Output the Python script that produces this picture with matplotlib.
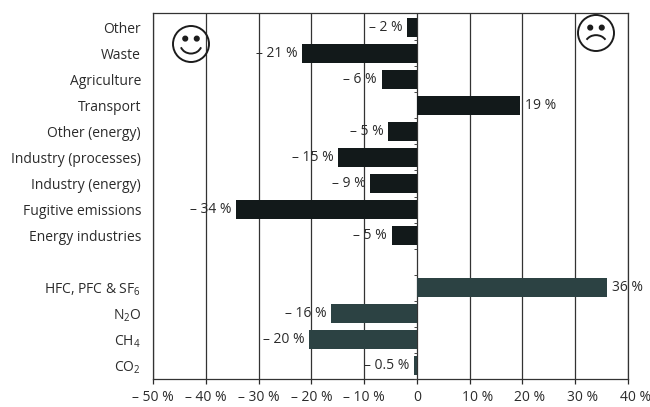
import numpy as np
import matplotlib
matplotlib.use("Agg")
import matplotlib.pyplot as plt
from matplotlib.patches import Circle, Arc

plt.rcParams['font.family'] = ['Open Sans', 'DejaVu Sans']
plt.rcParams['mathtext.default'] = 'regular'

categories = ["Other", "Waste", "Agriculture", "Transport", "Other (energy)",
              "Industry (processes)", "Industry (energy)", "Fugitive emissions",
              "Energy industries", "", "HFC, PFC & SF$_6$", "N$_2$O", "CH$_4$", "CO$_2$"]
values = [-1.8, -21.7, -6.7, 19.6, -5.4, -14.9, -8.8, -34.2, -4.8, None, 36.0, -16.2, -20.4, -0.5]
labels = ["– 2 %", "– 21 %", "– 6 %", "19 %", "– 5 %", "– 15 %", "– 9 %", "– 34 %",
          "– 5 %", "", "36 %", "– 16 %", "– 20 %", "– 0.5 %"]
sector_color = "#12191a"
gas_color = "#2c4243"
xticks = [-50, -40, -30, -20, -10, 0, 10, 20, 30, 40]
xticklabels = ["– 50 %", "– 40 %", "– 30 %", "– 20 %", "– 10 %", "0", "10 %", "20 %", "30 %", "40 %"]

W, H = 650, 407
fig = plt.figure(figsize=(W/100, H/100), dpi=100, facecolor="white")
L, R, T, B = 153, 628, 13, 379
ax = fig.add_axes([L/W, 1-B/H, (R-L)/W, (B-T)/H])
ink = "#2b2b2b"
fs = 10.0

y = np.arange(len(categories))
for i, (v, lab) in enumerate(zip(values, labels)):
    if v is None:
        continue
    col = sector_color if i < 9 else gas_color
    ax.barh(i, v, height=0.73, color=col, edgecolor="none", zorder=3)
    ax.annotate(lab, (v, i), xytext=(3.6 if v > 0 else -3.6, 0), textcoords="offset points",
                ha="left" if v > 0 else "right", va="center", fontsize=fs, color=ink, zorder=4)

ax.set_xlim(-50, 40)
ax.set_ylim(13.5, -0.54)
ax.set_xticks(xticks)
# positive labels sit a little to the right of their ticks, so they are placed separately
ax.set_xticklabels([t if v <= 0 else "" for t, v in zip(xticklabels, xticks)], fontsize=fs, color=ink)
for t, v in zip(xticklabels, xticks):
    if v > 0:
        ax.annotate(t, (v, 0), xycoords=ax.get_xaxis_transform(), xytext=(5.4, -8),
                    textcoords="offset points", ha="center", va="top",
                    fontsize=fs, color=ink, annotation_clip=False)
ax.set_yticks(y)
ax.set_yticklabels(categories, fontsize=fs, color=ink)
ax.tick_params(axis='y', length=0, pad=8.6)
ax.tick_params(axis='x', length=3.5, width=0.9, color=ink, pad=4.5)
ax.grid(axis='x', color="#333333", lw=0.9, zorder=1)
ax.set_axisbelow(True)
for s in ax.spines.values():
    s.set_color("#333333")
    s.set_linewidth(0.9)

# small ticks on the zero line, between the rows
ax.plot(np.zeros(len(y)), y + 0.5, ls="none",
        marker=0, ms=2.5, mew=0.7, color="#444444", zorder=4)


def face(cx, cy, r, happy):
    a = fig.add_axes([(cx-r-2)/W, 1-(cy+r+2)/H, (2*r+4)/W, (2*r+4)/H])
    a.set_xlim(-(r+2), r+2)
    a.set_ylim(-(r+2), r+2)
    a.axis("off")
    a.patch.set_alpha(0)
    a.add_patch(Circle((0, 0), r, fill=False, ec="#1c1c1c", lw=1.4))
    for sx in (-0.32, 0.32):
        a.add_patch(Circle((sx*r, 0.3*r), 0.13*r, color="#1c1c1c"))
    if happy:
        a.add_patch(Arc((0, 0.02*r), 1.2*r, 1.1*r, theta1=200, theta2=340, ec="#1c1c1c", lw=1.4))
    else:
        a.add_patch(Arc((0, -0.62*r), 1.2*r, 1.0*r, theta1=25, theta2=155, ec="#1c1c1c", lw=1.4))


face(191, 44, 18, True)
face(596, 33, 18, False)

fig.savefig("out.png", dpi=100)
